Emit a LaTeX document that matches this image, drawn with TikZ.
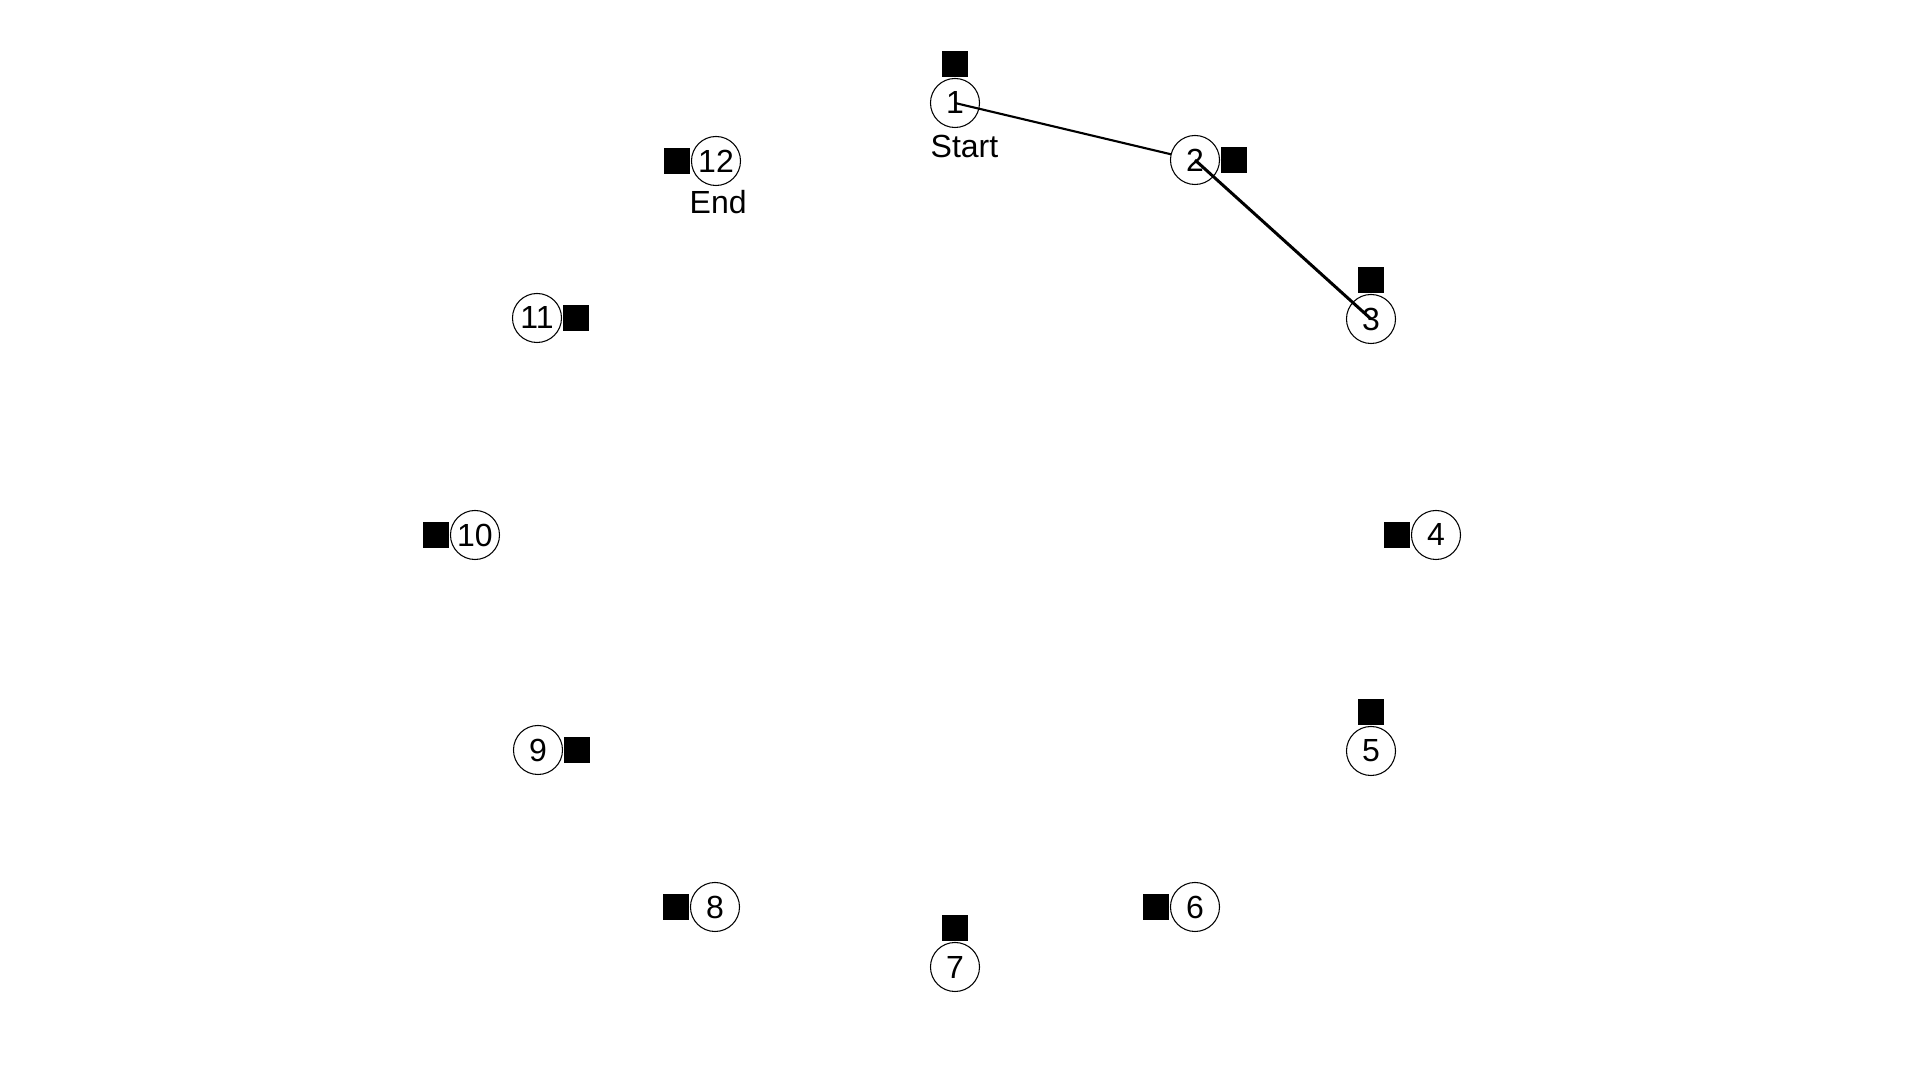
\documentclass[tikz,border=0pt]{standalone}
\usepackage{fontspec}
\setmainfont{Liberation Sans}
\begin{document}
\begin{tikzpicture}[x=0.01cm,y=-0.01cm,
  num/.style={circle,draw=black,line width=0.3pt,fill=white,minimum size=0.49cm,inner sep=0pt,font=\fontsize{9.1}{10}\selectfont},
  sqmark/.style={fill=black,minimum size=0.26cm,inner sep=0pt,draw=none},
  lbl/.style={font=\fontsize{9.1}{10}\selectfont,inner sep=0pt,anchor=west},
  link/.style={line width=0.6pt},
  linkb/.style={line width=0.85pt}]
\useasboundingbox (0,0) rectangle (1920,1080);
\fill[white] (0,0) rectangle (1920,1080);
% circles (except 2)
\node[num] (n1) at (955,103) {1};
\node[num] (n3) at (1371,319) {3};
\node[num] (n4) at (1436,535) {4};
\node[num] (n5) at (1371,751) {5};
\node[num] (n6) at (1195,907) {6};
\node[num] (n7) at (955,967) {7};
\node[num] (n8) at (715,907) {8};
\node[num] (n9) at (538,750) {9};
\node[num] (n10) at (475,535) {10};
\node[num] (n11) at (537,318) {11};
\node[num] (n12) at (716,161) {12};
\coordinate (p2) at (1195,160);
\draw[link] (n1.center) -- (p2);
\node[num] (n2) at (p2) {2};
\draw[linkb] (n2.center) -- (n3.center);
% markers
\node[sqmark,anchor=south] (m1) at (n1.north) {};
\node[sqmark,anchor=west] (m2) at (n2.east) {};
\node[sqmark,anchor=south] (m3) at (n3.north) {};
\node[sqmark,anchor=east] (m4) at (n4.west) {};
\node[sqmark,anchor=south] (m5) at (n5.north) {};
\node[sqmark,anchor=east] (m6) at (n6.west) {};
\node[sqmark,anchor=south] (m7) at (n7.north) {};
\node[sqmark,anchor=east] (m8) at (n8.west) {};
\node[sqmark,anchor=west] (m9) at (n9.east) {};
\node[sqmark,anchor=east] (m10) at (n10.west) {};
\node[sqmark,anchor=west] (m11) at (n11.east) {};
\node[sqmark,anchor=east] (m12) at (n12.west) {};
% labels
\node[lbl] (start) at (930,146) {Start};
\node[lbl] (end) at (689,202) {End};
\end{tikzpicture}
\end{document}
